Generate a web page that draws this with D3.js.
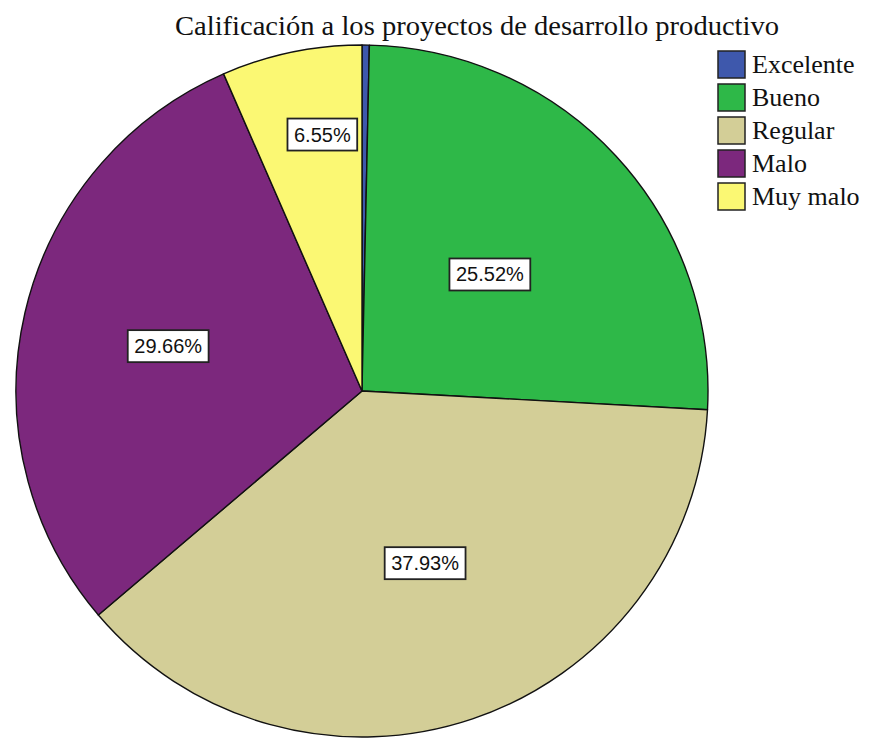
<!DOCTYPE html>
<html>
<head>
<meta charset="utf-8">
<script src="https://cdn.jsdelivr.net/npm/d3@7"></script>
<style>
  body { margin: 0; background: #fff; }
</style>
</head>
<body>
<svg id="chart" width="870" height="738"></svg>
<script>
const categories = ['Excelente', 'Bueno', 'Regular', 'Malo', 'Muy malo'];
const percents = [0.34, 25.52, 37.93, 29.66, 6.55];
const colors = ['#3e58ac', '#2eb848', '#d3ce97', '#7c287d', '#fbf873'];
const labelText = ['', '25.52%', '37.93%', '29.66%', '6.55%'];

// where SPSS put the boxes: fraction of the radius, and a small angle nudge (deg)
const labelRadius = [0, 0.5, 0.53, 0.575, 0.75];
const labelNudge = [0, 0.5, -1.5, 0, 3];

const svg = d3.select('#chart');
const cx = 362, cy = 391, r = 346;

svg.append('text')
  .text('Calificación a los proyectos de desarrollo productivo')
  .attr('x', 477)
  .attr('y', 35)
  .attr('text-anchor', 'middle')
  .attr('textLength', 604)
  .attr('lengthAdjust', 'spacingAndGlyphs')
  .style('font-family', '"Liberation Serif", "Times New Roman", serif')
  .style('font-size', '28px')
  .style('fill', '#111');

const data = categories.map((c, i) => ({ name: c, value: percents[i], color: colors[i], label: labelText[i], lr: labelRadius[i], nudge: labelNudge[i] }));

const pie = d3.pie().value(d => d.value).sort(null);
const arc = d3.arc().innerRadius(0).outerRadius(r);

const g = svg.append('g').attr('transform', `translate(${cx},${cy})`);

g.selectAll('path')
  .data(pie(data))
  .join('path')
  .attr('d', arc)
  .style('fill', d => d.data.color)
  .style('stroke', '#111')
  .style('stroke-width', 1.4)
  .style('stroke-linejoin', 'round');

const labels = g.selectAll('g.lbl')
  .data(pie(data).filter(d => d.data.label))
  .join('g')
  .attr('class', 'lbl')
  .attr('transform', d => {
    const a = (d.startAngle + d.endAngle) / 2 + d.data.nudge * Math.PI / 180;
    const rr = r * d.data.lr;
    return `translate(${Math.sin(a) * rr},${-Math.cos(a) * rr})`;
  });

labels.each(function (d) {
  const lg = d3.select(this);
  const rect = lg.append('rect');
  const t = lg.append('text')
    .text(d.data.label)
    .attr('text-anchor', 'middle')
    .attr('y', 7)
    .style('font-family', '"Liberation Sans", Arial, sans-serif')
    .style('font-size', '20px')
    .style('fill', '#111');
  const w = t.node().getComputedTextLength() + 13;
  rect.attr('x', -w / 2)
    .attr('y', -16)
    .attr('width', w)
    .attr('height', 32)
    .style('fill', '#fff')
    .style('stroke', '#222')
    .style('stroke-width', 1.8);
});

const legend = svg.append('g').attr('transform', 'translate(718,51)');
categories.forEach((c, i) => {
  const row = legend.append('g').attr('transform', `translate(0,${i * 33})`);
  row.append('rect')
    .attr('width', 27)
    .attr('height', 27)
    .style('fill', colors[i])
    .style('stroke', '#222')
    .style('stroke-width', 1.5);
  row.append('text')
    .text(c)
    .attr('x', 34)
    .attr('y', 22)
    .style('font-family', '"Liberation Serif", "Times New Roman", serif')
    .style('font-size', '26px')
    .style('fill', '#111');
});
</script>
</body>
</html>
